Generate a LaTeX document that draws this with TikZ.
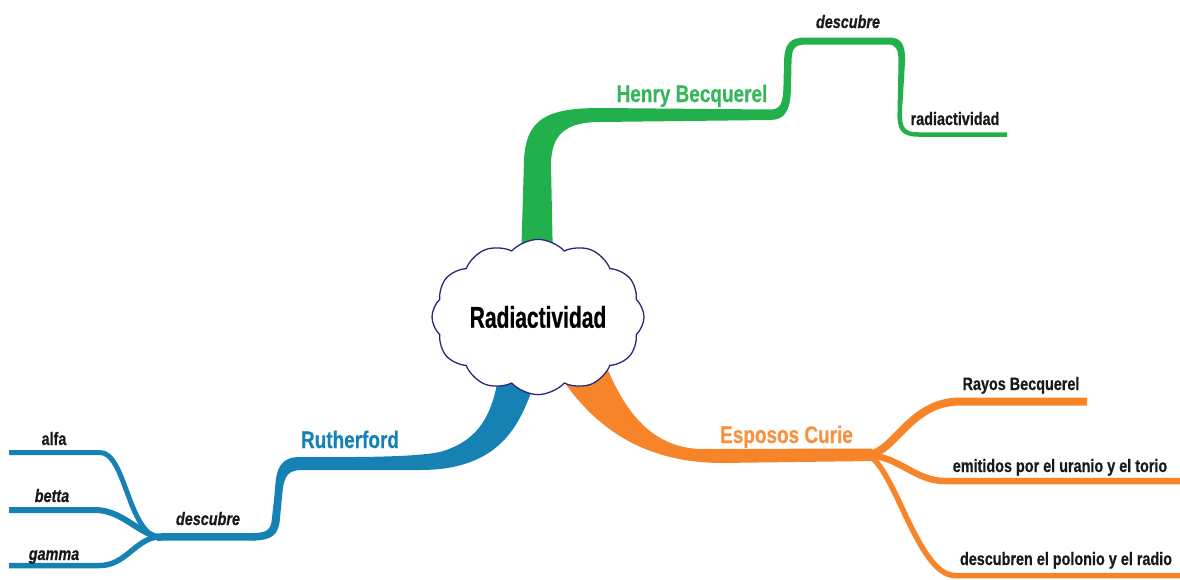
\documentclass[tikz,border=0pt]{standalone}
\usepackage{fontspec}
\setmainfont{Liberation Sans}
\newfontfamily\mainfont[FakeStretch=0.70, FakeBold=0.6]{Liberation Sans}
\newfontfamily\topicfont[FakeStretch=0.79, FakeBold=0.4]{Liberation Sans}
\newfontfamily\leaffont[FakeStretch=0.80, FakeBold=0.6]{Liberation Sans}
\usetikzlibrary{shapes.symbols}

\definecolor{hbgreen}{RGB}{34,176,76}
\definecolor{rublue}{RGB}{22,130,180}
\definecolor{cuorange}{RGB}{247,132,40}
\definecolor{cloudline}{RGB}{40,40,125}
\definecolor{leafink}{RGB}{25,25,25}

\tikzset{
  topic/.style={anchor=base, inner sep=0pt, font=\topicfont\bfseries\fontsize{24}{28}\selectfont},
  leaf/.style={anchor=base, inner sep=0pt, text=leafink, font=\leaffont\bfseries\fontsize{18}{22}\selectfont},
  leafit/.style={leaf, font=\leaffont\bfseries\itshape\fontsize{18}{22}\selectfont},
  twig/.style={line cap=butt, line join=round},
}

\begin{document}
\begin{tikzpicture}[x=1pt, y=-1pt]
\useasboundingbox (0,0) rectangle (1180,579);

% ---------------- Henry Becquerel (green) ----------------
\coordinate (hbend) at (1007,134.5);
\fill[hbgreen] (521,262) -- (524,160)
  .. controls (526,120) and (545,108) .. (600,108) -- (770,109.5)
  .. controls (781,109.5) and (783,103) .. (783.5,85) -- (784,62)
  .. controls (784.5,43) and (790,37.5) .. (806,37.5) -- (889,37.5)
  .. controls (901,37.5) and (905.5,44) .. (905,62) -- (902,112)
  .. controls (901.5,128) and (905,132.25) .. (918,132.25)
  -- ([yshift=2.25pt]hbend) -- ([yshift=-2.25pt]hbend) -- (918,136.75)
  .. controls (900,136.75) and (897,128) .. (897.5,112) -- (898.5,62)
  .. controls (898.5,49) and (896,44.5) .. (888,44.5) -- (806,44.5)
  .. controls (794,44.5) and (791.5,49) .. (791.5,63) -- (791,88)
  .. controls (790.5,112) and (784,120) .. (770,120) -- (600,122)
  .. controls (565,122) and (551,135) .. (551,165) -- (553,262) -- cycle;

% ---------------- Rutherford (blue) ----------------
\coordinate (rujoin) at (157,537);
\fill[rublue] (497,384)
  .. controls (490,420) and (475,442) .. (440,452)
  .. controls (410,458) and (340,457) .. (300,457)
  .. controls (282,457) and (276,466) .. (275,490) -- (272,518)
  .. controls (271,530) and (267,533) .. (252,533) -- (252,540.5)
  .. controls (272,540.5) and (279,535) .. (280,518) -- (282.5,492)
  .. controls (284,475) and (289,470) .. (302,470) -- (420,470)
  .. controls (500,470) and (520,425) .. (534,384) -- cycle;
\draw[rublue, twig, line width=7.5] (256,536.75) -- (rujoin);
\draw[rublue, twig, line width=5] (rujoin)
  .. controls (128,530) and (125,452.5) .. (100,452.5) -- (9,452.5);
\draw[rublue, twig, line width=6] (rujoin)
  .. controls (135,530) and (120,510) .. (95,510) -- (9,510);
\draw[rublue, twig, line width=5.5] (rujoin)
  .. controls (135,540) and (125,565.5) .. (100,565.5) -- (9,565.5);

% ---------------- Esposos Curie (orange) ----------------
\coordinate (cujoin) at (868,455);
\fill[cuorange] (555,368)
  .. controls (590,425) and (640,462) .. (720,463) -- (872,461)
  -- (872,448.5) -- (700,449)
  .. controls (650,447) and (625,410) .. (607,368) -- cycle;
\draw[cuorange, twig, line width=8] (cujoin)
  .. controls (895,452) and (910,401.5) .. (960,401.5) -- (1087,401.5);
\draw[cuorange, twig, line width=6.5] (cujoin)
  .. controls (900,457) and (915,481) .. (945,481) -- (1180,481);
\draw[cuorange, twig, line width=5.5] (cujoin)
  .. controls (895,468) and (918,575.5) .. (955,575.5) -- (1180,575.5);

% ---------------- central idea ----------------
\node[cloud, cloud puffs=12, cloud puff arc=95, aspect=1.4,
      draw=cloudline, line width=1.3pt, fill=white, inner sep=0pt,
      minimum width=212pt, minimum height=154pt,
      font=\mainfont\bfseries\fontsize{30}{34}\selectfont]
  (core) at (538,317) {Radiactividad};

% ---------------- labels ----------------
\node[topic, text=hbgreen!92!white] (hb) at (692,102) {Henry Becquerel};
\node[leafit] (hbverb) at (848,28) {descubre};
\node[leaf] (hbobj) at (955,125) {radiactividad};

\node[topic, text=rublue] (ru) at (350,448) {Rutherford};
\node[leafit] (ruverb) at (208,525) {descubre};
\node[leaf] (alfa) at (54,445) {alfa};
\node[leafit] (betta) at (52,502) {betta};
\node[leafit] (gamma) at (54,560) {gamma};

\node[topic, text=cuorange!90!white] (cu) at (786.5,443) {Esposos Curie};
\node[leaf] (rayos) at (1021,390) {Rayos Becquerel};
\node[leaf] (emit) at (1060,472) {emitidos por el uranio y el torio};
\node[leaf] (polo) at (1066,565) {descubren el polonio y el radio};

\end{tikzpicture}
\end{document}
